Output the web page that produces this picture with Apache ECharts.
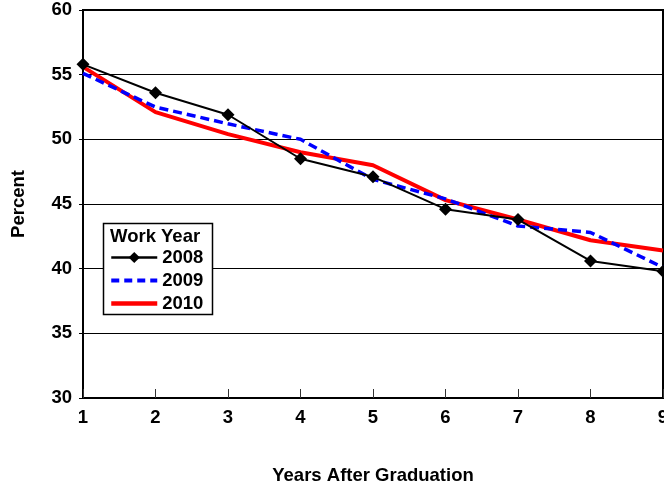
<!DOCTYPE html>
<html>
<head>
<meta charset="utf-8">
<script src="https://cdn.jsdelivr.net/npm/echarts@6/dist/echarts.min.js"></script>
<style>
	html, body { margin: 0; padding: 0; background: #fff; }
	#chart { width: 664px; height: 486px; }
</style>
</head>
<body>
<div id="chart"></div>
<script>
// years after graduation
var years = ['1', '2', '3', '4', '5', '6', '7', '8', '9'];
// percent by work year
var y2008 = [55.8, 53.6, 51.9, 48.5, 47.1, 44.6, 43.8, 40.6, 39.8];
var y2009 = [55.1, 52.5, 51.2, 50.0, 46.9, 45.4, 43.3, 42.8, 40.1];
var y2010 = [55.6, 52.1, 50.4, 49.0, 48.0, 45.3, 43.8, 42.2, 41.4];

var font = 'Liberation Sans, Arial, sans-serif';

var myChart = echarts.init(document.getElementById('chart'));
var option = {
	animation: false,
	backgroundColor: '#fff',
	grid: {
		left: 83,
		right: 1,
		top: 10,
		bottom: 88,
		outerBoundsMode: 'none',
		show: true,
		borderColor: '#000',
		borderWidth: 2
	},
	legend: {
		orient: 'vertical',
		left: 109,
		top: 248,
		padding: 0,
		z: 10,
		itemWidth: 46,
		itemHeight: 14,
		itemGap: 4,
		// 2009 and 2010 have no markers, hide the default legend dot
		data: [
			{ name: '2008', lineStyle: { width: 2.5 } },
			{ name: '2009', itemStyle: { opacity: 0 }, lineStyle: { width: 4, type: [8, 5] } },
			{ name: '2010', itemStyle: { opacity: 0 }, lineStyle: { width: 4.5 } }
		],
		textStyle: { fontFamily: font, fontWeight: 'bold', fontSize: 18.5, color: '#000' }
	},
	graphic: [
		{
			type: 'rect',
			shape: { x: 103.5, y: 223.5, width: 109, height: 91 },
			style: { fill: '#fff', stroke: '#000', lineWidth: 1.5 },
			z: 3
		},
		{
			type: 'text',
			left: 110,
			top: 227,
			style: { text: 'Work Year', fontFamily: font, fontWeight: 'bold', fontSize: 18.5, fill: '#000' },
			z: 11
		}
	],
	xAxis: {
		type: 'category',
		data: years,
		boundaryGap: false,
		name: 'Years After Graduation',
		nameLocation: 'middle',
		nameGap: 68,
		nameTextStyle: { fontFamily: font, fontWeight: 'bold', fontSize: 18.5, color: '#000' },
		axisLine: { lineStyle: { color: '#000', width: 2 } },
		axisTick: { inside: true, length: 9, lineStyle: { color: '#333' } },
		axisLabel: { fontFamily: font, fontWeight: 'bold', fontSize: 18.5, color: '#000', margin: 10 }
	},
	yAxis: {
		type: 'value',
		min: 30,
		max: 60,
		interval: 5,
		name: 'Percent',
		nameLocation: 'middle',
		nameGap: 55,
		nameTextStyle: { fontFamily: font, fontWeight: 'bold', fontSize: 18.5, color: '#000' },
		axisLine: { show: true, lineStyle: { color: '#000', width: 2 } },
		axisTick: { show: true, length: 4, lineStyle: { color: '#000' } },
		axisLabel: { fontFamily: font, fontWeight: 'bold', fontSize: 18.5, color: '#000', margin: 11 },
		splitLine: { lineStyle: { color: '#000', width: 1 } }
	},
	series: [
		{
			name: '2008',
			type: 'line',
			data: y2008,
			symbol: 'diamond',
			symbolSize: 13,
			itemStyle: { color: '#000' },
			lineStyle: { color: '#000', width: 2 },
			z: 4
		},
		{
			name: '2009',
			type: 'line',
			data: y2009,
			showSymbol: false,
			symbol: 'none',
			itemStyle: { color: '#0000ff' },
			lineStyle: { color: '#0000ff', width: 3.5, type: [9, 5] },
			z: 3
		},
		{
			name: '2010',
			type: 'line',
			data: y2010,
			showSymbol: false,
			symbol: 'none',
			itemStyle: { color: '#ff0000' },
			lineStyle: { color: '#ff0000', width: 4 },
			z: 2
		}
	]
};
myChart.setOption(option);
</script>
</body>
</html>
